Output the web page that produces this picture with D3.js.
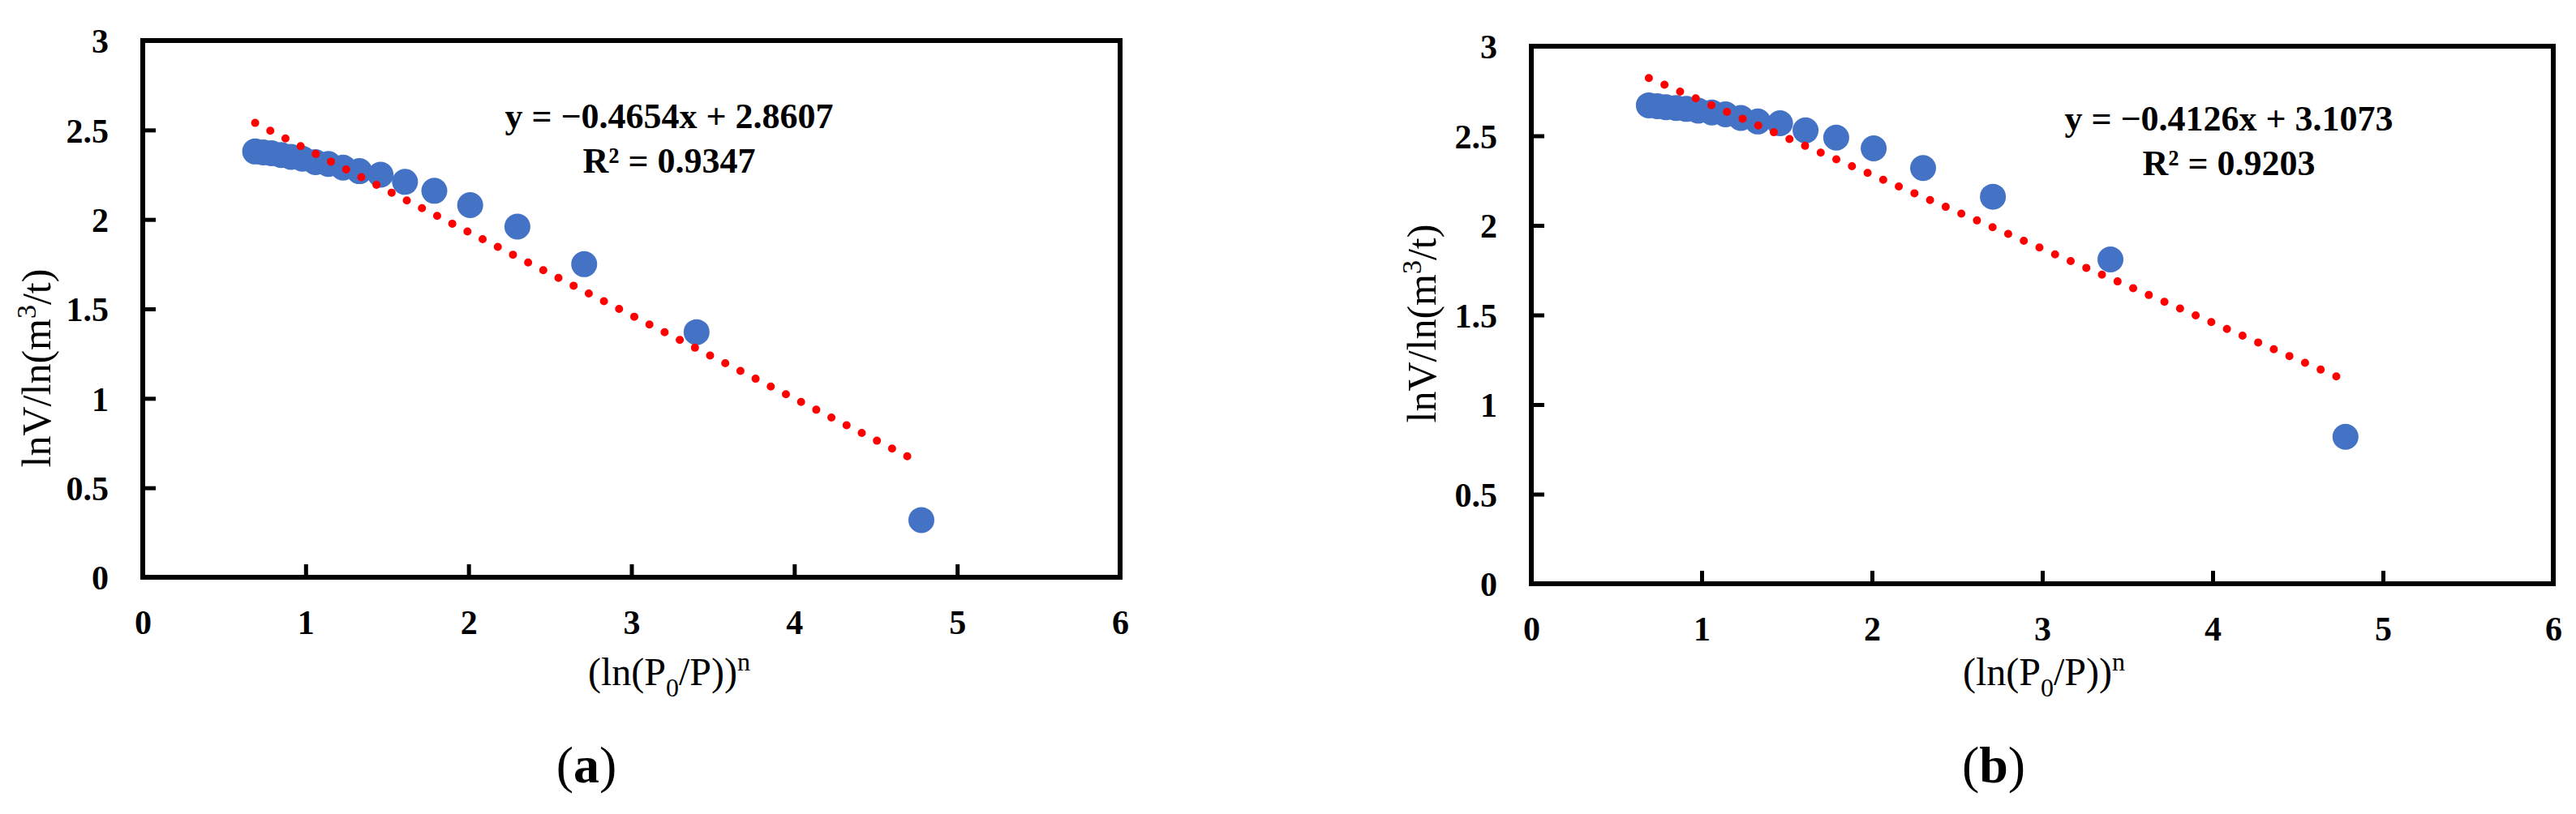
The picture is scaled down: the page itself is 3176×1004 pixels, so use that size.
<!DOCTYPE html>
<html><head><meta charset="utf-8">
<script src="https://cdn.jsdelivr.net/npm/d3@7"></script>
<style>body{margin:0;background:#fff}svg{display:block}text{font-family:"Liberation Serif","Times New Roman",serif}</style>
</head><body>
<script>
const xVals=[0.69,0.74,0.79,0.85,0.91,0.98,1.06,1.14,1.23,1.33,1.46,1.61,1.79,2.01,2.30,2.71,3.40,4.78];
const yA=[2.38,2.375,2.37,2.36,2.35,2.34,2.32,2.31,2.29,2.27,2.25,2.21,2.16,2.08,1.96,1.75,1.37,0.32];
const yB=[2.67,2.665,2.66,2.655,2.65,2.64,2.63,2.62,2.60,2.58,2.57,2.53,2.49,2.43,2.32,2.16,1.81,0.82];
const fitA={m:-0.4654,b:2.8607,eq:"y = \u22120.4654x + 2.8607",r2:"R\u00b2 = 0.9347"};
const fitB={m:-0.4126,b:3.1073,eq:"y = \u22120.4126x + 3.1073",r2:"R\u00b2 = 0.9203"};
const xTicks=[0,1,2,3,4,5,6], yTicks=[0,0.5,1,1.5,2,2.5,3];

const svg=d3.select("body").append("svg").attr("width",3176).attr("height",1004);

function panel(p){
  const x=d3.scaleLinear().domain([0,6]).range([p.x0,p.x1]);
  const y=d3.scaleLinear().domain([0,3]).range([p.y0,p.y1]);
  const g=svg.append("g");
  g.append("rect").attr("x",p.x0).attr("y",p.y1).attr("width",p.x1-p.x0).attr("height",p.y0-p.y1)
    .attr("fill","none").attr("stroke","#000").attr("stroke-width",6);
  const ax=g.append("g").attr("transform",`translate(0,${p.y0})`).call(d3.axisBottom(x).tickValues(xTicks).tickSize(-16).tickPadding(40).tickFormat(d3.format("d")));
  const ay=g.append("g").attr("transform",`translate(${p.x0},0)`).call(d3.axisLeft(y).tickValues(yTicks).tickSize(-16).tickPadding(42).tickFormat(d=>String(d)));
  [ax,ay].forEach(a=>{a.select(".domain").remove();a.selectAll("line").attr("stroke","#000").attr("stroke-width",5);
    a.selectAll("text").attr("font-size",42).attr("font-weight","bold").attr("fill","#000").attr("font-family","Liberation Serif");});
  ay.selectAll("text").attr("dy","0.35em");
  // points
  g.selectAll("circle.pt").data(xVals.map((v,i)=>[v,p.ys[i]])).join("circle")
    .attr("cx",d=>x(d[0])).attr("cy",d=>y(d[1])).attr("r",16).attr("fill","#4472C4");
  // trendline
  const xs=[xVals[0],xVals[xVals.length-1]];
  g.append("line").attr("x1",x(xs[0])).attr("y1",y(p.fit.m*xs[0]+p.fit.b))
    .attr("x2",x(xs[1])).attr("y2",y(p.fit.m*xs[1]+p.fit.b))
    .attr("stroke","#ff0000").attr("stroke-width",10).attr("stroke-linecap","round").attr("stroke-dasharray","0 21");
  g.append("text").attr("x",p.ex).attr("y",p.ey).attr("text-anchor","middle").attr("font-size",44).attr("font-weight","bold").text(p.fit.eq);
  g.append("text").attr("x",p.ex).attr("y",p.ey+55).attr("text-anchor","middle").attr("font-size",44).attr("font-weight","bold").text(p.fit.r2);
  const xl=g.append("text").attr("x",p.xlx).attr("y",p.xly).attr("text-anchor","middle").attr("font-size",48);
  xl.append("tspan").text("(ln(P");
  xl.append("tspan").attr("font-size",32).attr("dy",14).text("0");
  xl.append("tspan").attr("dy",-14).text("/P))");
  xl.append("tspan").attr("font-size",32).attr("dy",-18).text("n");
  const yl=g.append("text").attr("transform",`translate(${p.ylx},${p.yly}) rotate(-90)`).attr("text-anchor","middle").attr("font-size",50);
  yl.append("tspan").text("lnV/ln(m");
  yl.append("tspan").attr("font-size",34).attr("dy",-18).text("3");
  yl.append("tspan").attr("dy",18).text("/t)");
  const c=g.append("text").attr("x",p.cx).attr("y",965).attr("text-anchor","middle").attr("font-size",64);
  c.append("tspan").text("(");
  c.append("tspan").attr("font-weight","bold").text(p.cap);
  c.append("tspan").text(")");
}
panel({x0:176,x1:1381,y0:712,y1:50,ys:yA,fit:fitA,ex:825,ey:158,xlx:825,xly:845,ylx:62,yly:454,cx:723,cap:"a"});
panel({x0:1888,x1:3148,y0:720,y1:57,ys:yB,fit:fitB,ex:2748,ey:161,xlx:2520,xly:845,ylx:1770,yly:399,cx:2458,cap:"b"});
</script>
</body></html>
